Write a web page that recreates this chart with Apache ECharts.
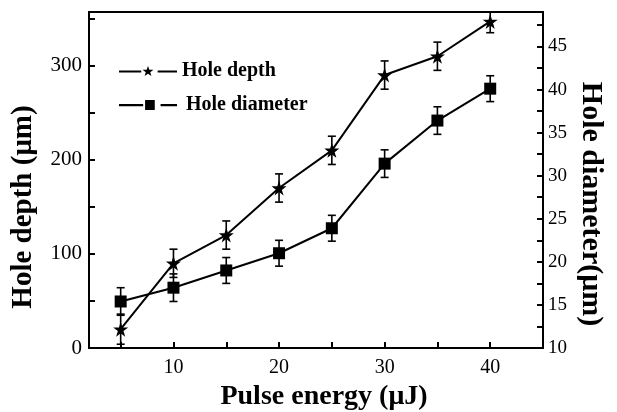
<!DOCTYPE html>
<html>
<head>
<meta charset="utf-8">
<script src="https://cdn.jsdelivr.net/npm/echarts@6/dist/echarts.min.js"></script>
<style>
  html, body { margin: 0; padding: 0; background: #fff; }
  #main { width: 617px; height: 412px; }
</style>
</head>
<body>
<div id="main"></div>
<script>
    // pulse energy (uJ)
    var energy = [5, 10, 15, 20, 25, 30, 35, 40];
    // hole depth (um) and its error
    var depth = [20, 90, 120, 170, 210, 290, 310, 347];
    var depthErr = [16, 15, 15, 15, 15, 15, 15, 12];
    // hole diameter (um) and its error
    var diameter = [15.4, 17.0, 19.0, 21.0, 23.9, 31.4, 36.4, 40.1];
    var diameterErr = [1.6, 1.6, 1.5, 1.5, 1.5, 1.6, 1.6, 1.5];

    // tick labels
    var xLabels = [10, 20, 30, 40];
    var xTicks = [5, 10, 15, 20, 25, 30, 35, 40];
    var depthLabels = [0, 100, 200, 300];
    var depthTicks = [0, 50, 100, 150, 200, 250, 300, 350];
    var diamLabels = [10, 15, 20, 25, 30, 35, 40, 45];
    var diamTicks = [10, 12.5, 15, 17.5, 20, 22.5, 25, 27.5, 30, 32.5, 35, 37.5, 40, 42.5, 45, 47.5];

    var starPath = 'path://M50,0 L61,35 L98,35 L68,57 L79,91 L50,70 L21,91 L32,57 L2,35 L39,35 Z';
    // legend icons: line - marker - line, with gaps round the marker
    var starIcon = 'path://M0,4 L23,4 L23,6.2 L0,6.2 Z M40,4 L60,4 L60,6.2 L40,6.2 Z ' +
        'M30,-1 L31.4,3.1 L35.7,3.2 L32.3,5.8 L33.5,9.9 L30,7.4 L26.5,9.9 L27.7,5.8 L24.3,3.2 L28.6,3.1 Z';
    var squareIcon = 'path://M0,4 L25,4 L25,6.2 L0,6.2 Z M27,0 L37,0 L37,10 L27,10 Z M43,4 L60,4 L60,6.2 L43,6.2 Z';
    var serif = '"Liberation Serif", "DejaVu Serif", serif';

    function pairs(ys) {
        return energy.map(function (x, i) { return [x, ys[i]]; });
    }
    function errData(ys, es) {
        return energy.map(function (x, i) { return [x, ys[i], es[i]]; });
    }

    // error bar with caps, drawn through the axis scales
    function renderErr(params, api) {
        var x = api.value(0), y = api.value(1), e = api.value(2);
        var hi = api.coord([x, y + e]);
        var lo = api.coord([x, y - e]);
        var w = 4;
        var st = { stroke: '#000', lineWidth: 1.6 };
        return {
            type: 'group',
            children: [
                { type: 'line', shape: { x1: hi[0], y1: hi[1], x2: lo[0], y2: lo[1] }, style: st },
                { type: 'line', shape: { x1: hi[0] - w, y1: hi[1], x2: hi[0] + w, y2: hi[1] }, style: st },
                { type: 'line', shape: { x1: lo[0] - w, y1: lo[1], x2: lo[0] + w, y2: lo[1] }, style: st }
            ]
        };
    }

    var axisCommon = {
        axisLine: { show: true, lineStyle: { color: '#000', width: 2 } },
        axisTick: { show: true, inside: true, length: 6, lineStyle: { color: '#000', width: 2 } },
        splitLine: { show: false },
        axisLabel: { color: '#000', fontFamily: serif, fontSize: 20 }
    };

    var myChart = echarts.init(document.getElementById('main'));
    var option = {
        animation: false,
        backgroundColor: '#fff',
        grid: {
            left: 89, right: 74, top: 12, bottom: 64,
            outerBoundsMode: 'none',
            show: true, borderColor: '#000', borderWidth: 2
        },
        legend: {
            orient: 'vertical',
            left: 114,
            top: 55,
            itemWidth: 58,
            itemHeight: 10,
            itemGap: 12,
            symbolKeepAspect: false,
            data: [
                { name: 'Hole depth', icon: starIcon },
                { name: 'Hole diameter', icon: squareIcon, textStyle: { padding: [0, 0, 0, 4] } }
            ],
            textStyle: { color: '#000', fontFamily: serif, fontWeight: 'bold', fontSize: 20, lineHeight: 22 }
        },
        xAxis: {
            type: 'value',
            min: 2,
            max: 45,
            name: 'Pulse energy (μJ)',
            nameLocation: 'middle',
            nameGap: 20,
            nameTextStyle: { color: '#000', fontFamily: serif, fontWeight: 'bold', fontSize: 28, padding: [0, 0, 0, 16] },
            axisLine: axisCommon.axisLine,
            axisTick: Object.assign({}, axisCommon.axisTick, { customValues: xTicks }),
            axisLabel: Object.assign({}, axisCommon.axisLabel, { customValues: xLabels, margin: 10 }),
            splitLine: axisCommon.splitLine
        },
        yAxis: [
            {
                type: 'value',
                min: 0,
                max: 357,
                position: 'left',
                axisLine: axisCommon.axisLine,
                axisTick: Object.assign({}, axisCommon.axisTick, { customValues: depthTicks }),
                axisLabel: Object.assign({}, axisCommon.axisLabel, { customValues: depthLabels, margin: 7, fontSize: 21 }),
                splitLine: axisCommon.splitLine
            },
            {
                type: 'value',
                min: 10,
                max: 49,
                position: 'right',
                axisLine: axisCommon.axisLine,
                axisTick: Object.assign({}, axisCommon.axisTick, { customValues: diamTicks }),
                axisLabel: Object.assign({}, axisCommon.axisLabel, { customValues: diamLabels, margin: 5, fontSize: 19 }),
                splitLine: axisCommon.splitLine
            }
        ],
        graphic: [
            {
                type: 'text', x: 24, y: 207, rotation: Math.PI / 2,
                style: { text: 'Hole depth (μm)', font: 'bold 29px ' + serif, fill: '#000', textAlign: 'center', textVerticalAlign: 'middle' }
            },
            {
                type: 'text', x: 591, y: 204, rotation: -Math.PI / 2,
                style: { text: 'Hole diameter(μm)', font: 'bold 30px ' + serif, fill: '#000', textAlign: 'center', textVerticalAlign: 'middle' }
            }
        ],
        series: [
            {
                name: 'Hole depth',
                type: 'line',
                yAxisIndex: 0,
                data: pairs(depth),
                symbol: starPath,
                symbolSize: 15,
                itemStyle: { color: '#000' },
                lineStyle: { color: '#000', width: 2 },
                z: 3
            },
            {
                name: 'Hole diameter',
                type: 'line',
                yAxisIndex: 1,
                data: pairs(diameter),
                symbol: 'rect',
                symbolSize: 12,
                itemStyle: { color: '#000' },
                lineStyle: { color: '#000', width: 2 },
                z: 3
            },
            {
                type: 'custom',
                yAxisIndex: 0,
                renderItem: renderErr,
                data: errData(depth, depthErr),
                encode: { x: 0, y: 1 },
                clip: true,
                z: 2
            },
            {
                type: 'custom',
                yAxisIndex: 1,
                renderItem: renderErr,
                data: errData(diameter, diameterErr),
                encode: { x: 0, y: 1 },
                clip: true,
                z: 2
            }
        ]
    };
    myChart.setOption(option);
</script>
</body>
</html>
